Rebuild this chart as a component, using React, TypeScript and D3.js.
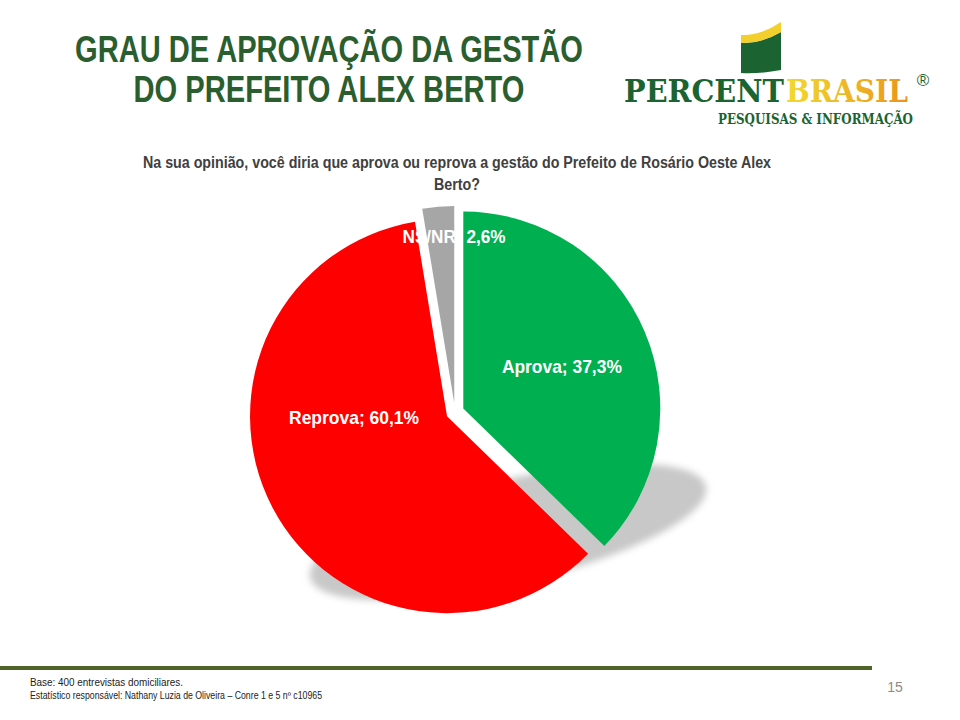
import React, { useRef, useEffect } from 'react';
import * as d3 from 'd3';

// chart data
const categories = ['Aprova', 'Reprova', 'NS/NR'];
const values = [37.3, 60.1, 2.6];
const sliceColors = ['#00B050', '#FF0000', '#A6A6A6'];

const titleLines = ['GRAU DE APROVAÇÃO DA GESTÃO', 'DO PREFEITO ALEX BERTO'];
const questionLines = [
  'Na sua opinião, você diria que aprova ou reprova a gestão do Prefeito de Rosário Oeste Alex',
  'Berto?',
];
const footerLines = [
  'Base: 400 entrevistas domiciliares.',
  'Estatístico responsável: Nathany Luzia de Oliveira – Conre 1 e 5 nº c10965',
];
const pageNumber = '15';

const narrow = "'Liberation Sans Narrow', 'Liberation Sans', Arial, sans-serif";

const App = () => {
  const ref = useRef<SVGSVGElement | null>(null);

  useEffect(() => {
    if (!ref.current) return;
    const svg = d3.select(ref.current);
    svg.selectAll('*').remove();

    const width = 960;
    const height = 720;
    svg.attr('width', width).attr('height', height);

    const defs = svg.append('defs');
    defs.append('filter').attr('id', 'blur').attr('x', '-20%').attr('y', '-50%')
      .attr('width', '140%').attr('height', '200%')
      .append('feGaussianBlur').attr('stdDeviation', 3.5);
    const grad = defs.append('linearGradient').attr('id', 'brasil').attr('x1', '0%').attr('x2', '100%');
    grad.append('stop').attr('offset', '0%').attr('stop-color', '#F3D92C');
    grad.append('stop').attr('offset', '100%').attr('stop-color', '#E9951E');

    // title
    svg.append('g').selectAll('text').data(titleLines).enter().append('text')
      .attr('x', 329).attr('y', (d, i) => 62 + i * 40)
      .attr('text-anchor', 'middle')
      .attr('font-family', narrow).attr('font-weight', 'bold').attr('font-size', 37)
      .attr('textLength', (d, i) => (i === 0 ? 508 : 391))
      .attr('lengthAdjust', 'spacingAndGlyphs')
      .attr('fill', '#2B5E2E')
      .text(d => d);

    // logo
    const logo = svg.append('g');
    logo.append('path')
      .attr('d', 'M741,43 Q760,44 781,32 L781,70 Q760,74 741,73 Z')
      .attr('fill', '#1B6431');
    logo.append('path')
      .attr('d', 'M741,35 Q760,36 781,22 L781,32 Q760,44 741,43 Z')
      .attr('fill', '#F2CF2A');
    // brand name, stretched vertically to get the tall condensed look
    const brand = logo.append('g').attr('transform', 'translate(0,102) scale(1,1.22) translate(0,-102)');
    brand.append('text')
      .attr('x', 624).attr('y', 102)
      .attr('font-family', "'DejaVu Serif', serif").attr('font-weight', 'bold').attr('font-size', 26)
      .attr('textLength', 160).attr('lengthAdjust', 'spacingAndGlyphs')
      .attr('fill', '#1B6431')
      .text('PERCENT');
    brand.append('text')
      .attr('x', 786).attr('y', 102)
      .attr('font-family', "'DejaVu Serif', serif").attr('font-weight', 'bold').attr('font-size', 26)
      .attr('textLength', 122).attr('lengthAdjust', 'spacingAndGlyphs')
      .attr('fill', 'url(#brasil)')
      .text('BRASIL');
    logo.append('text')
      .attr('x', 923).attr('y', 86).attr('text-anchor', 'middle')
      .attr('font-family', 'Arial, sans-serif').attr('font-size', 17).attr('fill', '#1B6431')
      .text('®');
    logo.append('text')
      .attr('x', 718).attr('y', 124)
      .attr('font-family', "'DejaVu Serif', serif").attr('font-weight', 'bold').attr('font-size', 14)
      .attr('textLength', 195).attr('lengthAdjust', 'spacingAndGlyphs')
      .attr('fill', '#1B6431')
      .text('PESQUISAS & INFORMAÇÃO');

    // question
    svg.append('g').selectAll('text').data(questionLines).enter().append('text')
      .attr('x', 457).attr('y', (d, i) => 168 + i * 22)
      .attr('text-anchor', 'middle')
      .attr('font-family', narrow).attr('font-weight', 'bold').attr('font-size', 16)
      .attr('textLength', (d, i) => (i === 0 ? 628 : 46))
      .attr('lengthAdjust', 'spacingAndGlyphs')
      .attr('fill', '#404040')
      .text(d => d);

    // pie
    const cx = 455;
    const cy = 412;
    const radius = 197;
    const explode = 9;

    const pie = d3.pie<number>().sort(null).value(d => d);
    const arcs = pie(values);
    const arc = d3.arc<d3.PieArcDatum<number>>().innerRadius(0).outerRadius(radius);

    // shadow under the pie
    svg.append('ellipse')
      .attr('cx', 508).attr('cy', 532).attr('rx', 203).attr('ry', 52)
      .attr('transform', 'rotate(-13 508 532)')
      .attr('fill', '#C8C8C8')
      .attr('filter', 'url(#blur)');

    const mid = (a: d3.PieArcDatum<number>) => (a.startAngle + a.endAngle) / 2;

    const slices = svg.append('g').selectAll('g').data(arcs).enter().append('g')
      .attr('transform', d => {
        const m = mid(d);
        return `translate(${cx + explode * Math.sin(m)},${cy - explode * Math.cos(m)})`;
      });

    slices.append('path')
      .attr('d', arc)
      .attr('fill', (d, i) => sliceColors[i]);

    // label placement inside each slice: radius and angle shift (radians)
    const labelRadius = [107, 93, 166];
    const labelShift = [0, 0.46, 0.08];
    const labelWidth = [120, 130, 103];

    slices.append('text')
      .attr('x', (d, i) => labelRadius[i] * Math.sin(mid(d) + labelShift[i]))
      .attr('y', (d, i) => -labelRadius[i] * Math.cos(mid(d) + labelShift[i]) + 6)
      .attr('text-anchor', 'middle')
      .attr('font-family', narrow).attr('font-weight', 'bold').attr('font-size', 19)
      .attr('textLength', (d, i) => labelWidth[i])
      .attr('lengthAdjust', 'spacingAndGlyphs')
      .attr('fill', '#FFFFFF')
      .text((d, i) => `${categories[i]}; ${values[i].toFixed(1).replace('.', ',')}%`);

    // footer
    svg.append('rect')
      .attr('x', 0).attr('y', 666).attr('width', 872).attr('height', 4)
      .attr('fill', '#4F6228');
    svg.append('g').selectAll('text').data(footerLines).enter().append('text')
      .attr('x', 30).attr('y', (d, i) => 686 + i * 13)
      .attr('font-family', narrow).attr('font-size', 10)
      .attr('textLength', (d, i) => (i === 0 ? 153 : 292))
      .attr('lengthAdjust', 'spacingAndGlyphs')
      .attr('fill', '#222222')
      .text(d => d);
    svg.append('text')
      .attr('x', 895).attr('y', 692).attr('text-anchor', 'middle')
      .attr('font-family', narrow).attr('font-size', 14)
      .attr('fill', '#8C8C8C')
      .text(pageNumber);
  }, []);

  return (
    <div style={{ position: 'absolute', left: 0, top: 0 }}>
      <svg ref={ref} />
    </div>
  );
};

export default App;
